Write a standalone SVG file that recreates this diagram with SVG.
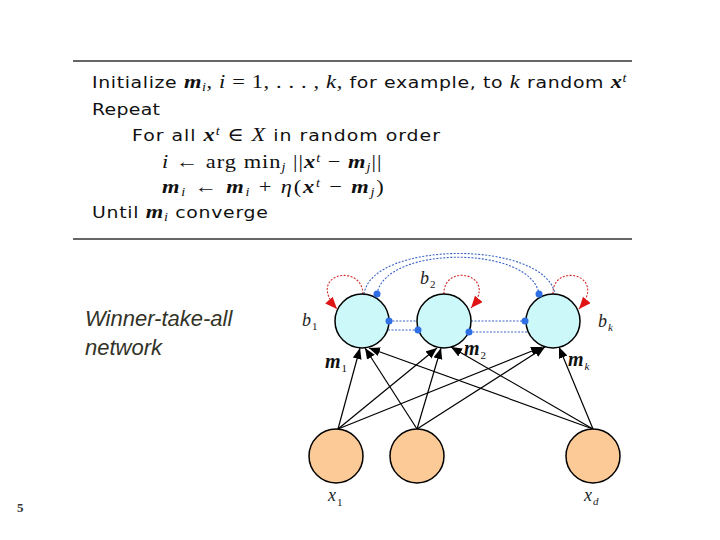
<svg xmlns="http://www.w3.org/2000/svg" width="720" height="540" viewBox="0 0 720 540">
<style>
.t{font-family:"DejaVu Sans","Liberation Sans",sans-serif;font-size:16px;fill:#111}
.mi{font-family:"Liberation Serif","DejaVu Serif",serif;font-style:italic;font-size:19px}
.mb{font-family:"Liberation Serif","DejaVu Serif",serif;font-style:italic;font-weight:bold;font-size:19px}
.mr{font-family:"Liberation Serif","DejaVu Serif",serif;font-style:normal;font-size:19px}
.sm{font-size:12px}
.rule{stroke:#333;stroke-width:1.3}
.top{fill:#ccf8fa;stroke:#000;stroke-width:1.5}
.bot{fill:#fcca96;stroke:#000;stroke-width:1.5}
.arr{stroke:#000;stroke-width:1.2;fill:none;marker-end:url(#ah)}
.loop{stroke:#d42a2a;stroke-width:1.1;stroke-dasharray:2 1.5;fill:none;marker-end:url(#rh)}
.inh{stroke:#3a64c8;stroke-width:1.1;stroke-dasharray:2 1.5;fill:none}
.dot{fill:#2f6fe6}
.lab{font-family:"Liberation Serif","DejaVu Serif",serif;font-style:italic;font-size:18px;fill:#222}
.labb{font-family:"Liberation Serif","DejaVu Serif",serif;font-style:italic;font-weight:bold;font-size:20px;fill:#111}
.labs{font-size:11px;font-weight:normal}
.up{font-style:normal}
.cap{font-family:"Liberation Sans",Arial,sans-serif;font-style:italic;font-size:22px;fill:#333328}
</style>
<defs>
<marker id="ah" markerWidth="12" markerHeight="10" refX="11" refY="4.5" orient="auto" markerUnits="userSpaceOnUse"><path d="M0,0 L11,4.5 L0,9 z" fill="#000"/></marker>
<marker id="rh" markerWidth="13" markerHeight="11" refX="12" refY="5" orient="auto" markerUnits="userSpaceOnUse"><path d="M0,0 L12,5 L0,10 z" fill="#e01414"/></marker>
</defs>
<rect width="720" height="540" fill="#fff"/>

<g id="algorithm">
<line class="rule" x1="73" y1="61" x2="632" y2="61"/>
<line class="rule" x1="73" y1="239" x2="632" y2="239"/>
<text class="t" transform="translate(92,88) scale(1.18,1)" x="0" y="0" textLength="453">Initialize <tspan class="mb">m</tspan><tspan class="mi sm" dy="3">i</tspan><tspan class="mr" dy="-3">, </tspan><tspan class="mi">i</tspan><tspan class="mr"> = 1, . . . , </tspan><tspan class="mi">k</tspan><tspan class="mr">,</tspan> for example, to <tspan class="mi">k</tspan> random <tspan class="mb">x</tspan><tspan class="mi sm" dy="-6">t</tspan></text>
<text class="t" transform="translate(92,115) scale(1.18,1)" x="0" y="0" textLength="57.6">Repeat</text>
<text class="t" transform="translate(132,141) scale(1.18,1)" x="0" y="0" textLength="261">For all <tspan class="mb">x</tspan><tspan class="mi sm" dy="-6">t</tspan><tspan class="mr" dy="6"> ∈ </tspan><tspan class="mi">X</tspan> in random order</text>
<text class="t" transform="translate(162,168) scale(1.18,1)" x="0" y="0" textLength="186"><tspan class="mi">i</tspan><tspan class="mr"> ← arg min</tspan><tspan class="mi sm" dy="3">j</tspan><tspan class="mr" dy="-3"> ||</tspan><tspan class="mb">x</tspan><tspan class="mi sm" dy="-6">t</tspan><tspan class="mr" dy="6"> − </tspan><tspan class="mb">m</tspan><tspan class="mi sm" dy="3">j</tspan><tspan class="mr" dy="-3">||</tspan></text>
<text class="t" transform="translate(162,193) scale(1.18,1)" x="0" y="0" textLength="188"><tspan class="mb">m</tspan><tspan class="mi sm" dy="3">i</tspan><tspan class="mr" dy="-3"> ← </tspan><tspan class="mb">m</tspan><tspan class="mi sm" dy="3">i</tspan><tspan class="mr" dy="-3"> + </tspan><tspan class="mi">η</tspan><tspan class="mr">(</tspan><tspan class="mb">x</tspan><tspan class="mi sm" dy="-6">t</tspan><tspan class="mr" dy="6"> − </tspan><tspan class="mb">m</tspan><tspan class="mi sm" dy="3">j</tspan><tspan class="mr" dy="-3">)</tspan></text>
<text class="t" transform="translate(92,218) scale(1.18,1)" x="0" y="0" textLength="149">Until <tspan class="mb">m</tspan><tspan class="mi sm" dy="3">i</tspan><tspan dy="-3"> converge</tspan></text>
</g>

<text class="cap" x="85" y="326">Winner-take-all</text>
<text class="cap" x="85" y="355">network</text>
<text x="17" y="512" font-family="Liberation Serif,serif" font-weight="bold" font-size="13" fill="#333">5</text>

<g id="connectors">
<line class="arr" x1="338" y1="429" x2="360" y2="348"/>
<line class="arr" x1="338" y1="429" x2="437" y2="348"/>
<line class="arr" x1="338" y1="429" x2="542" y2="347"/>
<line class="arr" x1="417" y1="429" x2="365" y2="348"/>
<line class="arr" x1="417" y1="429" x2="441" y2="348"/>
<line class="arr" x1="417" y1="429" x2="545" y2="347"/>
<line class="arr" x1="593" y1="429" x2="369" y2="348"/>
<line class="arr" x1="593" y1="429" x2="451" y2="347"/>
<line class="arr" x1="593" y1="429" x2="559" y2="347"/>
<path class="loop" d="M363,294 C362,262 305,274 337,309"/>
<path class="loop" d="M444,294 C443,262 500,274 471,308"/>
<path class="loop" d="M553,294 C552,262 609,274 579,309"/>
<path class="inh" d="M364,294 C372,240 545,240 555,294"/>
<path class="inh" d="M377,294 C385,245 531,245 539,294"/>
<line class="inh" x1="389" y1="321" x2="417" y2="321"/>
<line class="inh" x1="388" y1="330" x2="418" y2="330"/>
<line class="inh" x1="471" y1="321" x2="525" y2="321"/>
<line class="inh" x1="469" y1="332" x2="527" y2="332"/>
</g>

<g id="node-b1">
<circle class="top" cx="362" cy="321" r="27"/>
<text class="lab" x="302" y="326">b<tspan class="labs up" dx="1" dy="4">1</tspan></text>
<text class="labb" x="325" y="368">m<tspan class="labs up" dx="1" dy="4">1</tspan></text>
</g>
<g id="node-b2">
<circle class="top" cx="444" cy="321" r="27"/>
<text class="lab" x="420" y="284">b<tspan class="labs up" dx="1" dy="4">2</tspan></text>
<text class="labb" x="464" y="355">m<tspan class="labs up" dx="1" dy="4">2</tspan></text>
</g>
<g id="node-bk">
<circle class="top" cx="553" cy="321" r="27"/>
<text class="lab" x="598" y="327">b<tspan class="labs" dx="1" dy="4">k</tspan></text>
<text class="labb" x="568" y="366">m<tspan class="labs" dx="1" dy="4">k</tspan></text>
</g>
<g id="dots">
<circle class="dot" cx="377" cy="294" r="3.5"/>
<circle class="dot" cx="539" cy="294" r="3.5"/>
<circle class="dot" cx="389" cy="321" r="3.5"/>
<circle class="dot" cx="418" cy="330" r="3.5"/>
<circle class="dot" cx="469" cy="332" r="3.5"/>
<circle class="dot" cx="525" cy="321" r="3.5"/>
</g>
<g id="node-x1">
<circle class="bot" cx="336" cy="456" r="27"/>
<text class="lab" x="328" y="501">x<tspan class="labs up" dx="1" dy="5">1</tspan></text>
</g>
<g id="node-x2">
<circle class="bot" cx="417" cy="456" r="27"/>
</g>
<g id="node-xd">
<circle class="bot" cx="593" cy="456" r="27"/>
<text class="lab" x="584" y="501">x<tspan class="labs" dx="1" dy="4">d</tspan></text>
</g>
</svg>
